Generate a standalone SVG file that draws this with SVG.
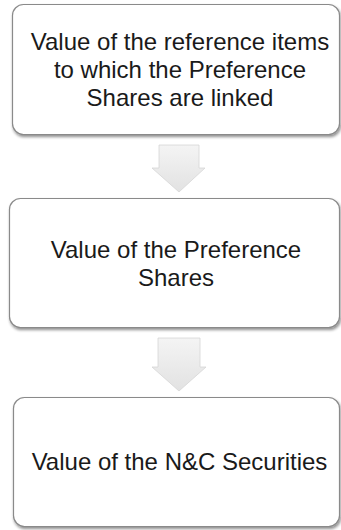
<svg xmlns="http://www.w3.org/2000/svg" width="341" height="530" viewBox="0 0 341 530">
<defs>
<filter id="sh" x="-10%" y="-10%" width="120%" height="130%">
<feGaussianBlur in="SourceAlpha" stdDeviation="1.5"/>
<feOffset dx="1" dy="2" result="b"/>
<feComponentTransfer><feFuncA type="linear" slope="0.45"/></feComponentTransfer>
<feMerge><feMergeNode/><feMergeNode in="SourceGraphic"/></feMerge>
</filter>
<linearGradient id="ag" x1="0" y1="0" x2="0" y2="1">
<stop offset="0" stop-color="#f4f4f4"/>
<stop offset="1" stop-color="#e2e2e2"/>
</linearGradient>
</defs>
<style>
.box{fill:#fff;stroke:#8a8a8a;stroke-width:1.2;filter:url(#sh)}
.t{font-family:"Liberation Sans",Arial,sans-serif;font-size:24px;fill:#1a1a1a;text-anchor:middle}
.arr{fill:url(#ag);stroke:#d6d6d6;stroke-width:0.8}
</style>
<g id="connectors">
<path class="arr" d="M159,145 H199 V168 H205 L179,192 L152,168 H159 Z"/>
<path class="arr" d="M158,338 H200 V367 H206 L179,391 L152,367 H158 Z"/>
</g>
<g id="node1">
<rect class="box" x="12.5" y="4.5" width="327" height="130" rx="11"/>
<text class="t" x="180" y="50">Value of the reference items</text>
<text class="t" x="180" y="78">to which the Preference</text>
<text class="t" x="180" y="106">Shares are linked</text>
</g>
<g id="node2">
<rect class="box" x="9.5" y="198.5" width="330" height="129" rx="11"/>
<text class="t" x="176" y="258">Value of the Preference</text>
<text class="t" x="176" y="286">Shares</text>
</g>
<g id="node3">
<rect class="box" x="13.5" y="397.5" width="326" height="129" rx="11"/>
<text class="t" x="179.5" y="470">Value of the N&amp;C Securities</text>
</g>
</svg>
